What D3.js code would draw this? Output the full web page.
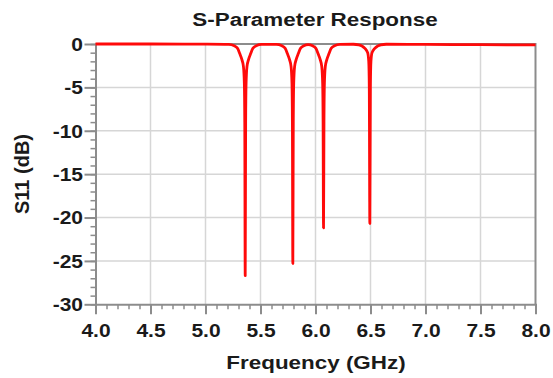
<!DOCTYPE html>
<html>
<head>
<meta charset="utf-8">
<script src="https://cdn.jsdelivr.net/npm/d3@7"></script>
<style>
  body { margin: 0; background: #fff; }
  text { font-family: "Liberation Sans", Arial, sans-serif; font-weight: bold; fill: #1a1a1a; }
</style>
</head>
<body>
<div id="chart"></div>
<script>
// S11 sweep (GHz, dB)
var freqGHz = [4.0, 4.5, 5.0,
  5.211, 5.261, 5.291, 5.311, 5.331, 5.345, 5.353, 5.357, 5.361, 5.365, 5.369, 5.377, 5.391, 5.411, 5.431, 5.461, 5.511,
  5.644, 5.694, 5.724, 5.744, 5.764, 5.778, 5.786, 5.790, 5.794, 5.798, 5.802, 5.810, 5.824, 5.844, 5.864, 5.894,
  5.933,
  5.973, 6.003, 6.023, 6.043, 6.057, 6.065, 6.069, 6.073, 6.077, 6.081, 6.089, 6.103, 6.123, 6.143, 6.173, 6.223,
  6.344, 6.394, 6.424, 6.449, 6.474, 6.484, 6.489, 6.494, 6.499, 6.504, 6.514, 6.539, 6.564, 6.594, 6.644,
  7.0, 7.5, 8.0];
var s11dB = [0, 0, -0.02,
  -0.05, -0.2, -0.5, -1.1, -1.8, -2.6, -4.5, -9, -26.7, -9, -4.5, -2.6, -1.8, -1.1, -0.5, -0.2, -0.05,
  -0.05, -0.2, -0.5, -1.1, -1.8, -2.6, -4.5, -9, -25.3, -9, -4.5, -2.6, -1.8, -1.1, -0.5, -0.2,
  -0.08,
  -0.2, -0.5, -1.1, -1.8, -2.6, -4.5, -9, -21.2, -9, -4.5, -2.6, -1.8, -1.1, -0.5, -0.2, -0.05,
  -0.03, -0.1, -0.25, -0.5, -1.0, -2.0, -5, -20.7, -5, -2.0, -1.0, -0.5, -0.25, -0.1, -0.03,
  -0.05, -0.08, -0.1];

var xTicks = [4.0, 4.5, 5.0, 5.5, 6.0, 6.5, 7.0, 7.5, 8.0];
var yTicks = [0, -5, -10, -15, -20, -25, -30];

var width = 553, height = 378;
var margin = {top: 44, right: 17.5, bottom: 73.7, left: 95.5};
var stretch = 1.2;

var svg = d3.select("#chart").append("svg")
    .attr("width", width)
    .attr("height", height);

var x = d3.scaleLinear().domain([4, 8]).range([margin.left, width - margin.right]);
var y = d3.scaleLinear().domain([0, -30]).range([margin.top, height - margin.bottom]);

// grid
svg.append("g").selectAll("line").data(xTicks.slice(1, -1)).enter().append("line")
    .attr("x1", d => x(d)).attr("x2", d => x(d))
    .attr("y1", y(0)).attr("y2", y(-30))
    .attr("stroke", "#d6d6d6").attr("stroke-width", 1.5);
svg.append("g").selectAll("line").data(yTicks.slice(1, -1)).enter().append("line")
    .attr("x1", x(4)).attr("x2", x(8))
    .attr("y1", d => y(d)).attr("y2", d => y(d))
    .attr("stroke", "#d6d6d6").attr("stroke-width", 1.5);

// frame top / right
svg.append("path")
    .attr("d", "M" + x(4) + "," + y(0) + "H" + x(8) + "V" + y(-30))
    .attr("fill", "none").attr("stroke", "#8c8c8c").attr("stroke-width", 2);

// minor ticks
var xMinor = d3.range(40, 81).map(d => d / 10);
var yMinor = d3.range(0, 31).map(d => -d);

svg.append("g")
    .attr("transform", "translate(0," + y(-30) + ")")
    .call(d3.axisBottom(x).tickValues(xMinor).tickSize(5).tickSizeOuter(0).tickFormat(""))
    .call(g => g.select(".domain").remove())
    .selectAll("line").attr("stroke", "#8c8c8c").attr("stroke-width", 1.5);

svg.append("g")
    .attr("transform", "translate(" + x(4) + ",0)")
    .call(d3.axisLeft(y).tickValues(yMinor).tickSize(5).tickSizeOuter(0).tickFormat(""))
    .call(g => g.select(".domain").remove())
    .selectAll("line").attr("stroke", "#8c8c8c").attr("stroke-width", 1.5);

// major axes
var xAxis = svg.append("g")
    .attr("transform", "translate(0," + y(-30) + ")")
    .call(d3.axisBottom(x).tickValues(xTicks).tickSize(10).tickSizeOuter(0).tickPadding(17).tickFormat(d => d.toFixed(1)));
xAxis.select(".domain").attr("stroke", "#8c8c8c").attr("stroke-width", 2);
xAxis.selectAll("line").attr("stroke", "#8c8c8c").attr("stroke-width", 2);
xAxis.selectAll("text")
    .style("font-size", "17.5px")
    .attr("dy", "0.3em")
    .attr("transform", "scale(" + stretch + ",1)");

var yAxis = svg.append("g")
    .attr("transform", "translate(" + x(4) + ",0)")
    .call(d3.axisLeft(y).tickValues(yTicks).tickSize(11).tickSizeOuter(0).tickPadding(1.5).tickFormat(d => String(d)));
yAxis.select(".domain").attr("stroke", "#8c8c8c").attr("stroke-width", 2);
yAxis.selectAll("line").attr("stroke", "#8c8c8c").attr("stroke-width", 2);
yAxis.selectAll("text")
    .style("font-size", "17.5px")
    .attr("x", -12.5 / stretch)
    .attr("dy", "0.36em")
    .attr("transform", "scale(" + stretch + ",1)");
svg.selectAll(".domain").attr("stroke-linecap", "square");
svg.selectAll(".tick text").attr("fill", "#1a1a1a");

// the trace
var line = d3.line()
    .x((d, i) => x(freqGHz[i]))
    .y(d => y(d))
    .curve(d3.curveMonotoneX);

svg.append("path")
    .datum(s11dB)
    .attr("d", line)
    .attr("fill", "none")
    .attr("stroke", "#ff0a0a")
    .attr("stroke-width", 2.8)
    .attr("stroke-linejoin", "round");

// titles
svg.append("text")
    .attr("transform", "translate(315,26) scale(1.18,1)")
    .attr("text-anchor", "middle")
    .style("font-size", "19px")
    .text("S-Parameter Response");

svg.append("text")
    .attr("transform", "translate(316,369) scale(1.18,1)")
    .attr("text-anchor", "middle")
    .style("font-size", "19px")
    .text("Frequency (GHz)");

svg.append("text")
    .attr("transform", "translate(28.5,174) rotate(-90)")
    .attr("text-anchor", "middle")
    .style("font-size", "20px")
    .text("S11 (dB)");
</script>
</body>
</html>
